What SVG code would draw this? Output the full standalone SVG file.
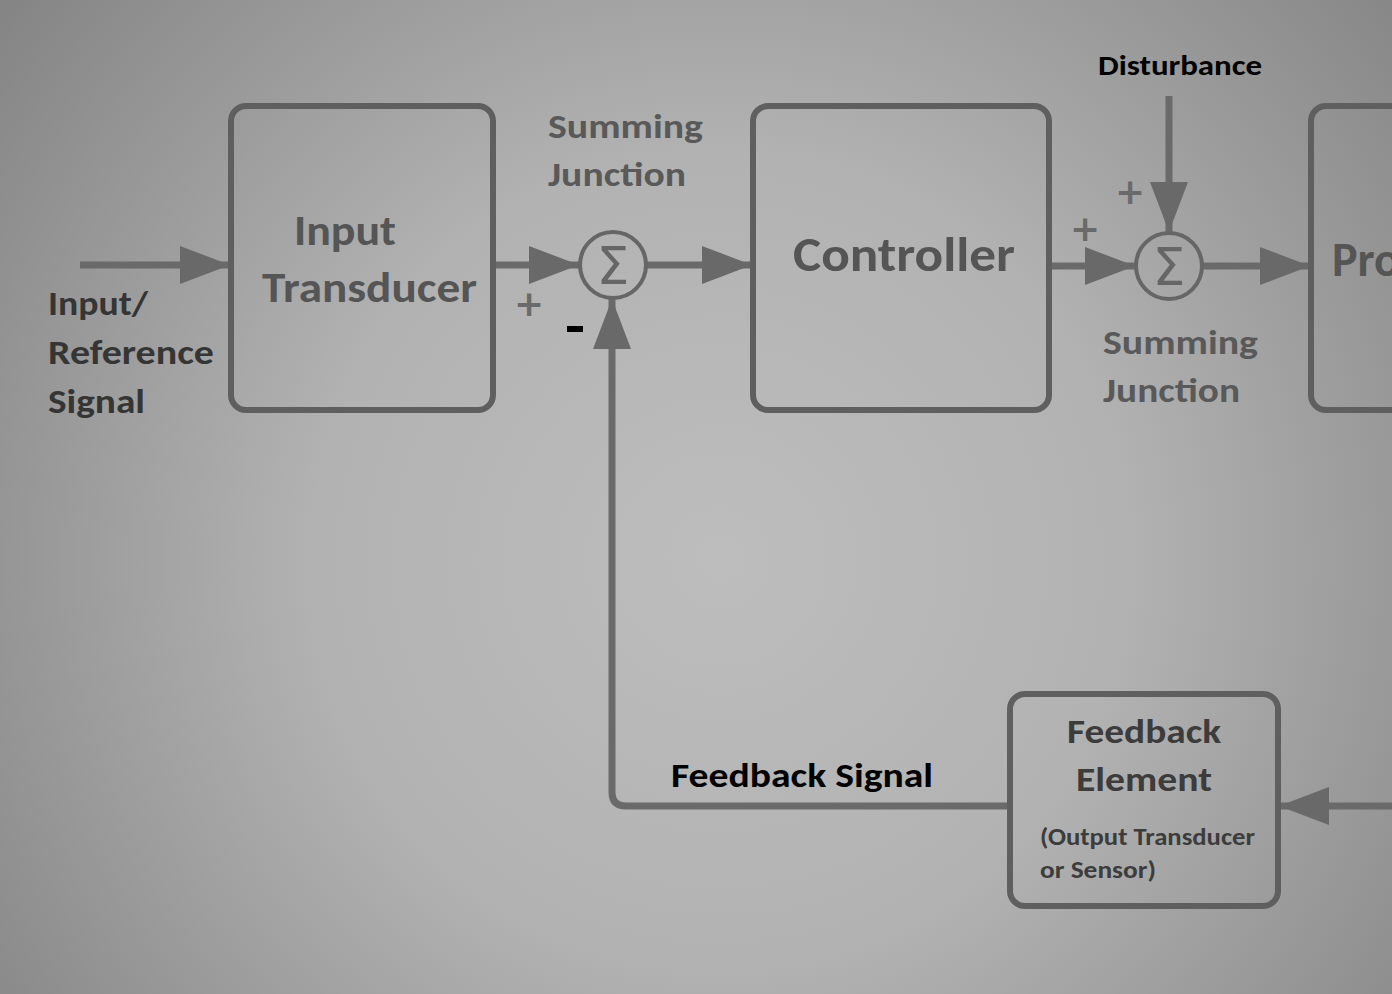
<svg xmlns="http://www.w3.org/2000/svg" width="1392" height="994" viewBox="0 0 1392 994">
<defs>
<radialGradient id="bg" cx="720" cy="560" r="900" gradientUnits="userSpaceOnUse">
<stop offset="0" stop-color="#bdbdbd"/>
<stop offset="0.45" stop-color="#b2b2b2"/>
<stop offset="1" stop-color="#858585"/>
</radialGradient>
<marker id="ah" markerWidth="50" markerHeight="40" refX="50" refY="20" orient="auto" markerUnits="userSpaceOnUse">
<path d="M0,1 L50,20 L0,39 Z" fill="#696969"/>
</marker>
</defs>
<style>
.box{fill:none;stroke:#5f5f5f;stroke-width:6}
.ln{fill:none;stroke:#6a6a6a;stroke-width:7}
.sum{fill:none;stroke:#666;stroke-width:4}
.t{font-family:Carlito,Lato,"Open Sans",sans-serif;font-weight:bold}
.sig{font-family:"DejaVu Sans",sans-serif;font-size:52px;fill:#666}
.pm{font-family:"DejaVu Sans",sans-serif;font-weight:bold;font-size:36px;fill:#6a6a6a}
</style>
<rect width="1392" height="994" fill="url(#bg)"/>

<g id="connectors">
<line class="ln" x1="80" y1="265" x2="230" y2="265" marker-end="url(#ah)"/>
<line class="ln" x1="493" y1="265" x2="579" y2="265" marker-end="url(#ah)"/>
<line class="ln" x1="647" y1="265" x2="752" y2="265" marker-end="url(#ah)"/>
<line class="ln" x1="1049" y1="266" x2="1135" y2="266" marker-end="url(#ah)"/>
<line class="ln" x1="1203" y1="266" x2="1310" y2="266" marker-end="url(#ah)"/>
<line class="ln" x1="1169" y1="96" x2="1169" y2="232" marker-end="url(#ah)"/>
<line class="ln" x1="1392" y1="806" x2="1279" y2="806" marker-end="url(#ah)"/>
<path class="ln" d="M1009,806 L626,806 Q612,806 612,792 L612,299" marker-end="url(#ah)"/>
</g>

<g id="input-label">
<text class="t" x="48" y="315" font-size="35" fill="#353535" textLength="100" lengthAdjust="spacingAndGlyphs">Input/</text>
<text class="t" x="48" y="364" font-size="35" fill="#353535" textLength="166" lengthAdjust="spacingAndGlyphs">Reference</text>
<text class="t" x="48" y="413" font-size="35" fill="#353535" textLength="97" lengthAdjust="spacingAndGlyphs">Signal</text>
</g>

<g id="input-transducer">
<rect class="box" x="231" y="106" width="262" height="304" rx="15"/>
<text class="t" x="294" y="245" font-size="42" fill="#555" textLength="102" lengthAdjust="spacingAndGlyphs">Input</text>
<text class="t" x="262" y="302" font-size="42" fill="#555" textLength="215" lengthAdjust="spacingAndGlyphs">Transducer</text>
</g>

<g id="sum1">
<circle class="sum" cx="613" cy="265" r="33"/>
<text class="sig" x="613" y="284" text-anchor="middle">Σ</text>
<text class="t" x="548" y="138" font-size="35" fill="#595959" textLength="155" lengthAdjust="spacingAndGlyphs">Summing</text>
<text class="t" x="548" y="186" font-size="35" fill="#595959" textLength="138" lengthAdjust="spacingAndGlyphs">Junction</text>
<text class="pm" x="529" y="316" text-anchor="middle">+</text>
<rect x="567" y="326" width="16" height="6" fill="#000"/>
</g>

<g id="controller">
<rect class="box" x="753" y="106" width="296" height="304" rx="15"/>
<text class="t" x="793" y="271" font-size="48" fill="#555" textLength="222" lengthAdjust="spacingAndGlyphs">Controller</text>
</g>

<g id="sum2">
<circle class="sum" cx="1169" cy="266" r="33"/>
<text class="sig" x="1169" y="285" text-anchor="middle">Σ</text>
<text class="t" x="1103" y="354" font-size="35" fill="#595959" textLength="155" lengthAdjust="spacingAndGlyphs">Summing</text>
<text class="t" x="1103" y="402" font-size="35" fill="#595959" textLength="137" lengthAdjust="spacingAndGlyphs">Junction</text>
<text class="pm" x="1085" y="241" text-anchor="middle">+</text>
<text class="pm" x="1130" y="204" text-anchor="middle">+</text>
</g>

<g id="disturbance">
<text class="t" x="1098" y="75" font-size="28" fill="#000" textLength="164" lengthAdjust="spacingAndGlyphs">Disturbance</text>
</g>

<g id="process">
<rect class="box" x="1311" y="106" width="200" height="304" rx="15"/>
<text class="t" x="1332" y="276" font-size="48" fill="#555">Pro</text>
</g>

<g id="feedback-element">
<rect class="box" x="1010" y="694" width="268" height="212" rx="15"/>
<text class="t" x="1067" y="743" font-size="35" fill="#3c3c3c" textLength="154" lengthAdjust="spacingAndGlyphs">Feedback</text>
<text class="t" x="1076" y="791" font-size="35" fill="#3c3c3c" textLength="136" lengthAdjust="spacingAndGlyphs">Element</text>
<text class="t" x="1040" y="845" font-size="25" fill="#3c3c3c" textLength="215" lengthAdjust="spacingAndGlyphs">(Output Transducer</text>
<text class="t" x="1040" y="878" font-size="25" fill="#3c3c3c" textLength="116" lengthAdjust="spacingAndGlyphs">or Sensor)</text>
</g>

<g id="feedback-signal">
<text class="t" x="671" y="787" font-size="35" fill="#000" textLength="262" lengthAdjust="spacingAndGlyphs">Feedback Signal</text>
</g>
</svg>
